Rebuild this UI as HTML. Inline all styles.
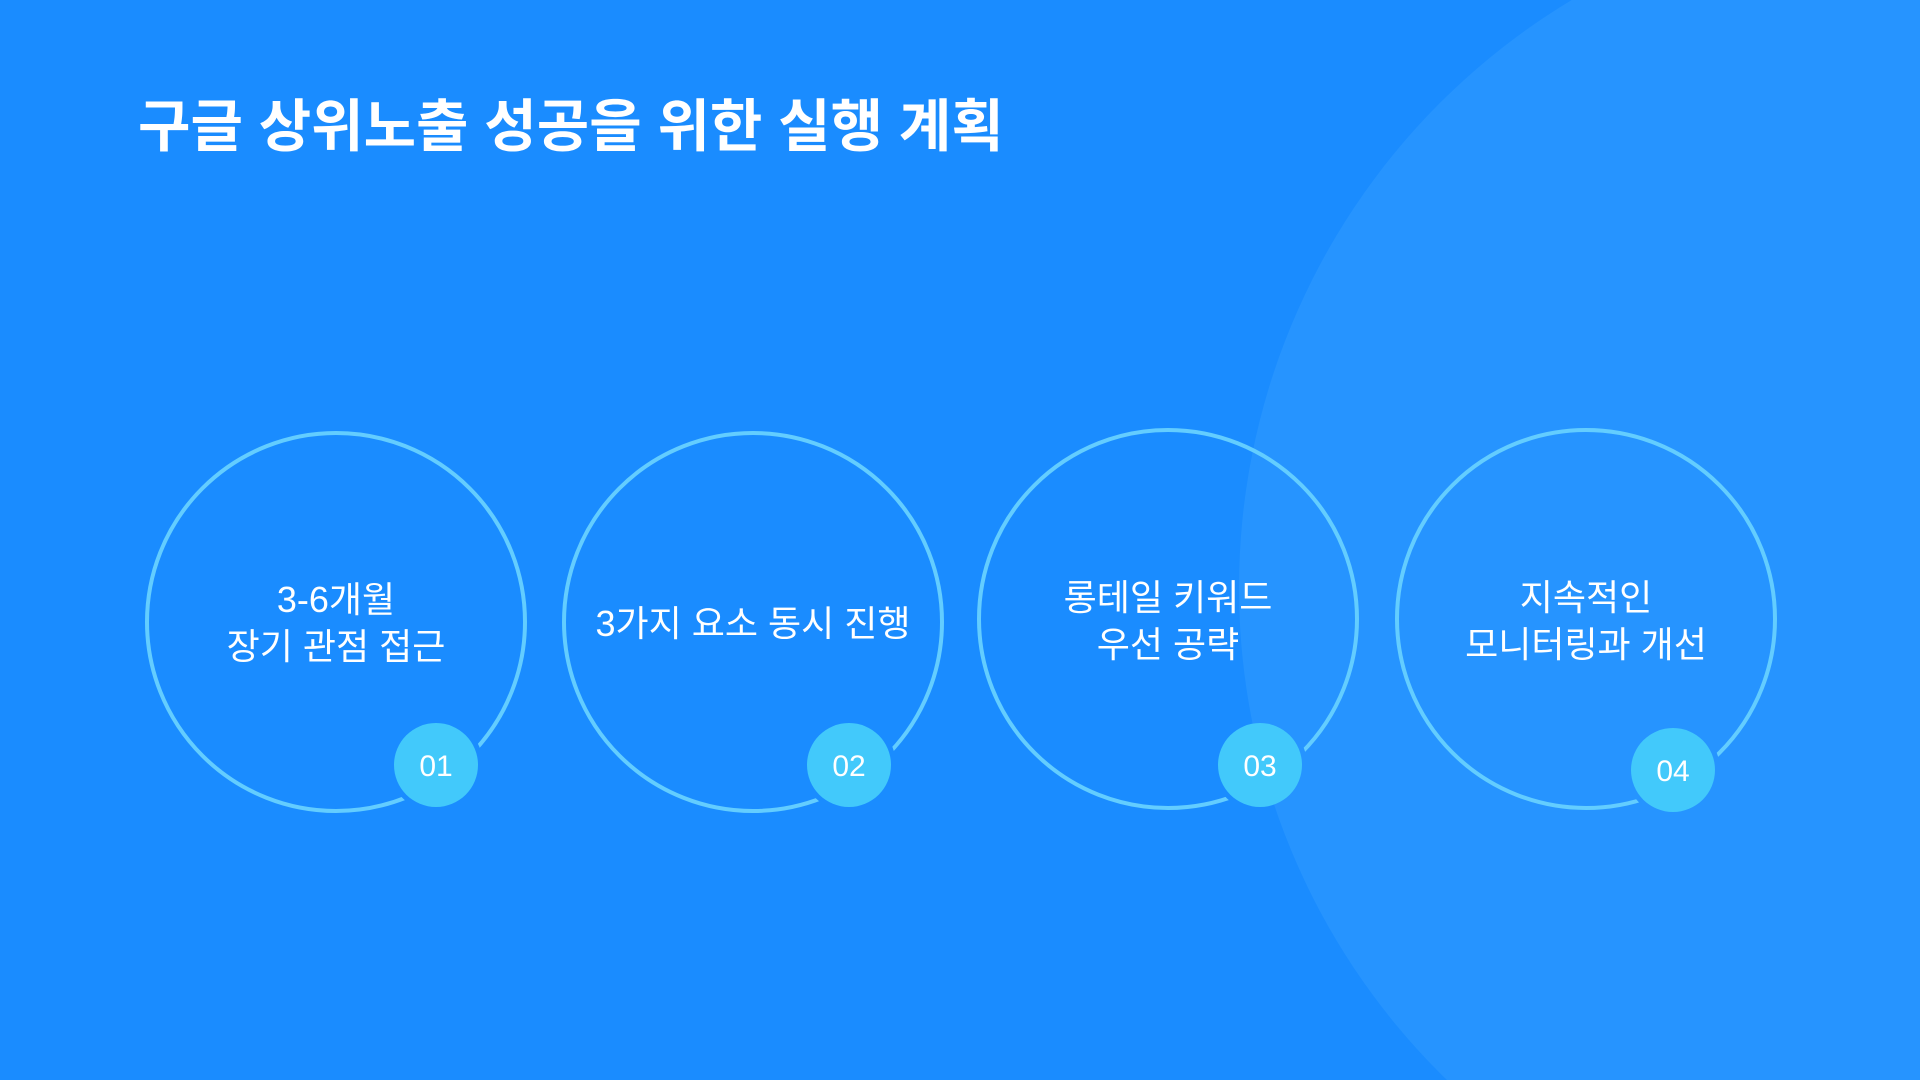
<!DOCTYPE html>
<html><head><meta charset="utf-8"><style>
html,body{margin:0;padding:0;width:1920px;height:1080px;overflow:hidden;background:#1a8cff}
#w{position:relative;width:1920px;height:1080px;overflow:hidden}
svg{display:block;position:absolute;left:0;top:0}
text{font-family:"Liberation Sans","Noto Sans CJK KR",sans-serif;fill:#fff}
</style></head><body><div id="w">
<svg width="1920" height="1080" viewBox="0 0 1920 1080">
<defs>
<mask id="m">
<rect width="1920" height="1080" fill="#fff"/>
<circle cx="436" cy="765" r="47" fill="#000"/>
<circle cx="849" cy="765" r="47" fill="#000"/>
<circle cx="1260" cy="765" r="47" fill="#000"/>
<circle cx="1673" cy="770" r="47" fill="#000"/>
</mask>
</defs>
<rect width="1920" height="1080" fill="#1a8cff"/>
<circle cx="1925" cy="588" r="686" fill="#2694ff"/>
<text x="138" y="146" font-size="57" font-weight="bold">구글 상위노출 성공을 위한 실행 계획</text>
<g fill="none" stroke="#63cdff" stroke-width="4" mask="url(#m)">
<circle cx="336" cy="622" r="189"/>
<circle cx="753" cy="622" r="189"/>
<circle cx="1168" cy="619" r="189"/>
<circle cx="1586" cy="619" r="189"/>
</g>
<g font-size="36" text-anchor="middle">
<text x="336" y="612">3-6개월</text><text x="336" y="659">장기 관점 접근</text>
<text x="753" y="636">3가지 요소 동시 진행</text>
<text x="1168" y="610">롱테일 키워드</text><text x="1168" y="657">우선 공략</text>
<text x="1586" y="610">지속적인</text><text x="1586" y="657">모니터링과 개선</text>
</g>
<g fill="#42c9fb">
<circle cx="436" cy="765" r="42"/>
<circle cx="849" cy="765" r="42"/>
<circle cx="1260" cy="765" r="42"/>
<circle cx="1673" cy="770" r="42"/>
</g>
<g font-size="30" text-anchor="middle">
<text x="436" y="776">01</text>
<text x="849" y="776">02</text>
<text x="1260" y="776">03</text>
<text x="1673" y="781">04</text>
</g>
</svg>
</div></body></html>
